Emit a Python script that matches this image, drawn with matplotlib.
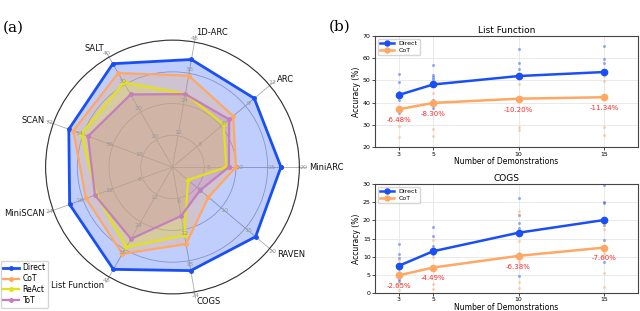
import numpy as np
import matplotlib
matplotlib.use("Agg")
import matplotlib.pyplot as plt

# ---------------- Radar data ----------------
categories = ["MiniARC", "ARC", "1D-ARC", "SALT", "SCAN", "MiniSCAN", "List Function", "COGS", "RAVEN"]
axis_max = [20, 12, 48, 40, 72, 24, 48, 24, 20]
direct_vals = [17.1, 10.1, 41.3, 37.6, 62.6, 20.7, 44.7, 19.9, 17.1]
cot_vals = [10.0, 7.5, 35.1, 34.2, 59.9, 17.4, 37.9, 14.8, 7.4]
react_vals = [8.5, 6.3, 28.1, 30.8, 55.0, 15.3, 35.1, 13.1, 3.2]
tot_vals = [8.9, 7.0, 28.0, 26.4, 51.0, 15.6, 31.4, 9.4, 5.7]

# ---------------- Line chart data ----------------
demos = [3, 5, 10, 15]
lf_direct = [43.5, 48.2, 52.0, 53.8]
lf_cot = [37.02, 39.9, 41.8, 42.46]
lf_labels = ["-6.48%", "-8.30%", "-10.20%", "-11.34%"]
lf_direct_pts = [[53.0, 49.2, 45.0, 44.2, 43.0, 41.2, 35.2],
                 [56.9, 52.4, 51.4, 50.5, 49.4, 48.6, 41.1, 40.4, 37.8],
                 [64.0, 57.7, 55.0, 52.7, 52.0],
                 [65.6, 59.9, 58.0, 54.4, 53.5]]
lf_cot_pts = [[37.8, 36.5, 29.5, 24.5],
              [44.2, 40.5, 39.5, 28.2, 25.2],
              [48.6, 41.4, 29.1, 27.6],
              [52.1, 49.8, 42.2, 29.1, 25.6]]

cogs_direct = [7.5, 11.5, 16.6, 20.1]
cogs_cot = [4.85, 7.01, 10.22, 12.5]
cogs_labels = ["-2.65%", "-4.49%", "-6.38%", "-7.60%"]
cogs_direct_pts = [[13.4, 10.7, 9.5, 8.0, 7.1, 6.6, 4.6, 3.9, 3.4],
                   [18.2, 15.7, 13.0, 12.2, 11.3, 10.7, 6.3],
                   [26.1, 21.6, 19.3, 17.9, 16.6, 9.6, 4.8],
                   [29.7, 25.2, 24.7, 20.2, 18.7, 14.5, 8.4]]
cogs_cot_pts = [[9.0, 5.8, 5.2, 4.0, 2.5, 0.8],
                [14.6, 12.0, 10.0, 6.6, 2.5, 1.2],
                [22.5, 21.6, 14.3, 11.1, 9.3, 8.4, 3.0, 1.4],
                [18.8, 17.5, 12.5, 11.0, 9.8, 5.4, 1.6]]

C_DIRECT = "#1a4ff5"
C_COT = "#ffa864"
C_REACT = "#e2e21a"
C_TOT = "#c47fbf"

fig = plt.figure(figsize=(6.4, 3.11), dpi=100)

# ---------------- Radar ----------------
axr = fig.add_axes([0.071, 0.055, 0.397, 0.816], projection="polar")
n = len(categories)
angles = np.arange(n) * 2 * np.pi / n
ang_closed = np.concatenate([angles, angles[:1]])

series = [("Direct", direct_vals, C_DIRECT, 2.0), ("CoT", cot_vals, C_COT, 1.6),
          ("ReAct", react_vals, C_REACT, 1.6), ("ToT", tot_vals, C_TOT, 1.6)]
for name, vals, col, lw in series:
    frac = np.array(vals) / np.array(axis_max)
    fc = np.concatenate([frac, frac[:1]])
    axr.fill(ang_closed, fc, color=col, alpha=0.28, zorder=2)
    axr.plot(ang_closed, fc, color=col, lw=lw, marker="o", markersize=2.5, label=name, zorder=3)

axr.set_ylim(0, 1)
axr.set_yticks([0.25, 0.5, 0.75, 1.0])
axr.set_yticklabels([])
axr.set_xticks(angles)
axr.set_xticklabels([])
axr.xaxis.grid(False)
axr.yaxis.grid(True, color="#b0b0b0", lw=0.6)
axr.spines["polar"].set_color("#333333")
axr.spines["polar"].set_linewidth(0.8)

for a, cat, m in zip(angles, categories, axis_max):
    axr.plot([a, a], [0, 1.05], color="#aaaaaa", lw=0.6, zorder=1.5, clip_on=False)
    for k in range(1, 5):
        axr.text(a, k * 0.25 + 0.03, f"{int(m * k / 4)}", fontsize=4.6, color="#999999",
                 ha="center", va="center", zorder=4, clip_on=False)
    ha = "left" if np.cos(a) > 0.01 else "right"
    axr.text(a, 1.075, cat, fontsize=6, color="#111111", ha=ha, va="center", clip_on=False)

fig.legend(*axr.get_legend_handles_labels(), loc="lower left", bbox_to_anchor=(0.0, 0.008),
           borderaxespad=0.1, fontsize=5.5, handlelength=2.0, handletextpad=0.5, borderpad=0.35,
           labelspacing=0.25, frameon=True, edgecolor="#cccccc", fancybox=True)

fig.text(0.021, 0.91, "(a)", fontsize=11, family="DejaVu Serif", ha="center", va="center")
fig.text(0.531, 0.913, "(b)", fontsize=11, family="DejaVu Serif", ha="center", va="center")

# ---------------- Line charts ----------------
def line_panel(rect, title, d_mean, c_mean, d_pts, c_pts, labels, ylim, yticks, off):
    ax = fig.add_axes(rect)
    for x, pts in zip(demos, d_pts):
        ax.plot([x] * len(pts), pts, "o", color=C_DIRECT, alpha=0.45, markersize=2.2, mew=0)
    for x, pts in zip(demos, c_pts):
        ax.plot([x] * len(pts), pts, "o", color=C_COT, alpha=0.45, markersize=2.2, mew=0)
    ax.plot(demos, d_mean, "-o", color=C_DIRECT, lw=1.8, markersize=4.5, label="Direct")
    ax.plot(demos, c_mean, "-o", color=C_COT, lw=1.8, markersize=4.5, label="CoT")
    for x, cv, lab in zip(demos, c_mean, labels):
        ax.text(x, cv - off, lab, color="#ff2a2a", fontsize=5, ha="center", va="center")
    ax.set_xlim(1.6, 17)
    ax.set_ylim(*ylim)
    ax.set_xticks(demos)
    ax.set_yticks(yticks)
    ax.tick_params(labelsize=4.5, length=2, width=0.5, pad=1.2)
    ax.grid(True, color="#e6e6e6", lw=0.6)
    for s in ax.spines.values():
        s.set_color("#444444")
        s.set_linewidth(0.8)
    ax.set_title(title, fontsize=6.5, pad=2)
    ax.set_xlabel("Number of Demonstrations", fontsize=5.5, labelpad=0.5)
    ax.set_ylabel("Accuracy (%)", fontsize=5.5, labelpad=1)
    ax.legend(loc="upper left", fontsize=4.5, handlelength=2.2, borderpad=0.3,
              labelspacing=0.25, edgecolor="#cccccc", markerscale=0.8)
    return ax

line_panel([0.586, 0.527, 0.411, 0.357], "List Function", lf_direct, lf_cot,
           lf_direct_pts, lf_cot_pts, lf_labels, (20, 70), [20, 30, 40, 50, 60, 70], 5)
line_panel([0.586, 0.058, 0.411, 0.350], "COGS", cogs_direct, cogs_cot,
           cogs_direct_pts, cogs_cot_pts, cogs_labels, (0, 30), [0, 5, 10, 15, 20, 25, 30], 3)

fig.savefig("out.png", dpi=100)
